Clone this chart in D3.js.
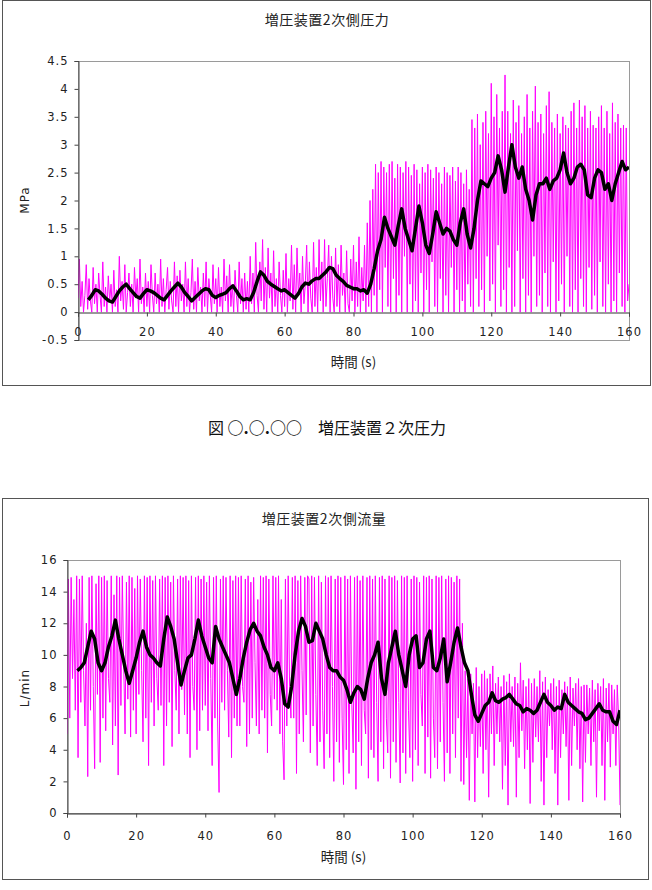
<!DOCTYPE html>
<html><head><meta charset="utf-8">
<script src="https://cdn.jsdelivr.net/npm/d3@7"></script>
<style>
body{margin:0;background:#fff;}
svg{display:block;}
</style></head>
<body>
<svg id="c" width="652" height="890"></svg>
<script>
// ---------- data ----------
const sampleStep = 0.4;   // s, magenta raw signal sampling
const avgStart = 3;       // s, moving-average start
const avgStep = 1;        // s

const pressureTitle = "増圧装置2次側圧力";
const flowTitle = "増圧装置2次側流量";
const xLabel = "時間 (s)";
const pressureUnit = "MPa";
const flowUnit = "L/min";
const captionNum = "○.○.○○";
const captionText = "増圧装置２次圧力";

const xTicks = [0,20,40,60,80,100,120,140,160];
const pressureTicks = [-0.5,0,0.5,1,1.5,2,2.5,3,3.5,4,4.5];
const flowTicks = [0,2,4,6,8,10,12,14,16];

const pressureRaw = [
0.25,0.95,0.1,0.55,0.0,0.3,0.85,0.05,0.6,0.2,0.0,0.8,0.15,0.5,0.0,0.7,0.3,0.0,0.9,0.1,0.45,0.0,0.65,0.2,0.5,
0.0,0.75,0.1,0.4,0.0,1.0,0.2,0.55,0.05,0.85,0.0,0.35,0.7,0.1,0.5,0.0,0.8,0.25,0.6,0.0,0.95,0.15,0.45,0.0,0.7,
0.1,0.55,0.0,0.85,0.3,0.0,0.7,0.15,0.5,0.0,0.95,0.1,0.6,0.0,0.4,0.8,0.05,0.55,0.2,0.0,0.9,0.1,0.65,0.0,0.75,
0.2,0.5,0.0,0.9,0.1,0.6,0.0,0.35,0.95,0.05,0.55,0.0,0.8,0.2,0.45,0.0,0.7,0.1,0.9,0.0,0.6,0.3,0.0,0.85,0.15,
0.6,0.0,0.8,0.1,0.45,0.0,0.95,0.2,0.65,0.0,0.85,0.1,0.5,0.0,0.75,0.3,0.0,0.9,0.15,0.6,0.0,0.7,0.05,0.55,0.0,
1.0,0.15,0.7,0.0,1.25,0.3,0.0,0.9,0.2,1.3,0.05,0.8,0.0,1.15,0.25,0.7,0.0,1.1,0.1,0.6,0.0,0.9,0.3,0.0,0.75,
0.1,1.05,0.0,0.6,0.2,1.2,0.05,0.85,0.0,1.15,0.3,0.7,0.0,1.0,0.15,0.5,1.2,0.0,0.9,0.25,0.0,1.25,0.1,0.8,0.0,
1.3,0.2,0.9,0.0,1.3,0.1,0.6,1.2,0.0,1.0,0.25,0.0,1.15,0.1,0.85,0.0,1.2,0.3,0.7,0.0,1.1,0.15,0.0,0.95,0.2,
1.2,0.0,0.9,0.1,1.35,0.0,0.8,0.2,1.2,0.0,1.6,0.1,2.0,0.0,2.2,0.3,2.65,0.0,2.5,0.4,2.7,0.0,2.6,0.8,2.5,
0.1,2.65,0.0,2.7,0.6,2.4,0.0,2.65,0.3,2.6,0.0,2.5,1.0,2.7,0.0,2.6,0.5,2.45,0.0,2.65,0.2,2.55,0.0,2.3,0.7,
2.6,0.0,2.5,0.4,2.65,0.0,2.55,0.9,2.4,0.1,2.6,0.0,2.5,0.6,2.3,0.0,2.6,0.3,2.5,0.0,2.45,0.8,2.6,0.0,2.35,
0.4,2.6,0.0,2.5,0.2,2.3,0.0,2.55,0.5,2.2,0.1,3.45,0.0,3.3,0.6,3.55,0.1,3.0,0.4,3.4,0.0,3.6,1.0,3.2,0.2,
4.1,0.5,3.5,0.0,3.9,1.2,3.3,0.1,3.6,0.4,4.25,0.0,3.6,0.8,3.2,0.0,3.8,0.1,3.4,1.1,3.7,0.0,3.2,0.6,3.5,
0.0,3.9,0.3,3.3,0.0,3.6,1.0,4.05,0.1,3.4,0.3,3.55,0.0,3.2,0.7,3.7,0.1,3.95,0.0,3.4,0.9,3.3,0.0,3.55,0.2,
3.2,0.5,3.5,0.0,3.35,1.0,3.3,0.1,3.6,0.0,3.75,0.4,3.3,0.0,3.8,0.6,3.5,0.1,3.7,0.0,3.3,0.8,3.6,0.05,3.35,
0.3,3.3,0.0,3.5,0.9,3.7,0.1,3.3,0.0,3.6,0.5,3.2,0.0,3.75,0.2,3.4,0.0,3.55,0.7,3.3,0.1,3.35,0.0,3.3,0.2,
0.5];

const pressureAvg = [
0.22,0.3,0.4,0.38,0.32,0.25,0.2,0.18,0.28,0.38,0.45,0.5,0.42,0.35,0.28,0.25,0.33,0.4,
0.38,0.35,0.3,0.25,0.22,0.3,0.38,0.45,0.52,0.45,0.35,0.28,0.2,0.26,0.32,0.38,0.42,0.4,
0.3,0.26,0.3,0.32,0.35,0.42,0.47,0.38,0.28,0.22,0.24,0.22,0.35,0.55,0.72,0.66,0.55,0.5,
0.46,0.42,0.38,0.4,0.35,0.3,0.25,0.33,0.45,0.52,0.5,0.56,0.6,0.6,0.66,0.72,0.8,0.78,
0.66,0.6,0.55,0.48,0.45,0.42,0.42,0.38,0.4,0.34,0.5,0.78,1.1,1.3,1.7,1.5,1.35,1.2,
1.55,1.85,1.5,1.3,1.1,1.5,1.9,1.6,1.2,1.05,1.4,1.8,1.6,1.4,1.5,1.45,1.3,1.2,1.6,1.85,
1.4,1.15,1.5,2.0,2.35,2.3,2.25,2.4,2.5,2.8,2.55,2.15,2.6,3.0,2.6,2.4,2.6,2.2,2.0,1.65,
2.1,2.3,2.3,2.4,2.2,2.35,2.4,2.55,2.85,2.5,2.3,2.4,2.6,2.65,2.55,2.1,2.05,2.4,2.55,2.5,
2.2,2.3,2.0,2.3,2.5,2.7,2.55,2.6];

const flowRaw = [
5.0,14.8,6.0,14.9,8.5,13.5,6.5,15.0,3.5,14.8,7.0,15.0,9.0,5.5,12.0,2.3,14.9,6.5,15.0,8.0,2.8,14.5,7.5,15.0,3.2,
14.9,6.0,15.0,5.2,14.7,8.5,7.0,15.0,4.3,13.8,5.5,15.0,2.4,14.9,6.8,15.0,9.5,5.0,14.6,7.2,15.0,4.8,14.9,6.5,14.2,
5.0,15.0,7.5,14.8,9.0,4.5,15.0,6.0,14.9,3.0,15.0,7.0,14.7,5.5,15.0,8.5,6.5,14.8,6.8,15.0,3.0,14.9,5.5,15.0,7.0,
14.6,4.2,15.0,9.0,6.5,14.8,5.0,15.0,7.8,14.9,6.2,15.0,5.0,14.7,3.5,15.0,8.0,6.5,14.9,4.0,15.0,5.2,14.8,6.5,15.0,
6.8,14.6,5.2,15.0,8.5,3.0,14.9,6.0,15.0,5.5,1.3,14.8,7.0,15.0,6.5,14.9,9.0,4.8,15.0,3.5,14.7,6.0,15.0,5.5,14.9,
5.5,15.0,8.0,7.0,14.8,4.2,15.0,5.0,14.6,6.0,14.9,9.5,5.5,13.5,5.0,15.0,6.5,14.9,6.0,15.0,3.8,14.8,7.5,5.5,15.0,
7.2,14.9,6.5,15.0,5.0,13.5,4.5,2.1,14.8,5.5,15.0,8.0,6.0,14.9,6.0,15.0,2.5,14.7,5.0,15.0,9.0,4.5,14.9,6.2,15.0,
14.8,3.8,15.0,5.5,14.9,7.5,3.0,15.0,4.5,14.6,6.5,2.8,15.0,5.0,14.9,3.5,15.0,8.0,2.0,14.8,4.5,15.0,3.2,14.9,6.0,
1.8,15.0,4.0,14.8,2.5,15.0,7.0,3.8,14.9,1.5,15.0,4.5,14.7,3.0,15.0,6.5,5.0,14.9,2.2,15.0,4.0,14.8,3.5,15.0,7.0,
2.0,14.9,4.5,15.0,2.8,14.8,6.0,3.8,15.0,2.2,14.9,4.5,15.0,3.2,14.7,7.0,1.9,15.0,3.8,14.9,2.5,15.0,6.5,3.5,14.8,
2.0,15.0,4.0,14.9,3.0,14.6,7.5,5.5,15.0,2.5,14.9,4.8,15.0,2.2,14.8,6.0,3.5,15.0,2.8,14.9,4.5,15.0,7.0,2.0,14.8,
3.8,15.0,2.5,14.9,5.0,14.6,3.5,15.0,6.0,14.8,2.0,12.0,1.8,9.0,3.5,8.5,0.8,8.8,5.0,8.2,0.7,9.2,3.5,8.0,4.2,
8.8,2.5,9.0,4.0,8.5,1.0,8.8,5.0,9.3,3.0,8.2,5.0,8.6,4.5,8.0,1.5,8.7,3.0,8.3,0.5,8.8,4.5,8.0,4.2,8.6,
1.0,8.2,3.5,9.5,5.2,8.4,2.8,8.0,4.0,8.5,0.6,8.2,3.2,8.5,4.8,8.0,4.5,9.0,2.0,8.3,0.5,8.6,3.5,7.8,5.5,
8.2,4.0,8.5,2.5,8.0,0.5,8.4,3.5,7.8,5.0,8.3,4.2,8.0,0.8,8.6,3.0,7.9,5.5,8.2,4.0,8.5,2.8,8.0,0.7,8.1,
3.2,8.1,5.0,7.9,3.0,8.4,4.5,7.8,1.0,8.2,5.2,8.0,3.0,8.5,0.8,7.9,4.5,8.2,2.9,8.1,5.0,7.8,3.0,8.1,6.0,
0.5];

const flowAvg = [
9.0,9.2,9.5,10.5,11.5,11.0,9.5,9.0,9.5,10.5,11.2,12.2,11.0,10.0,9.0,8.2,9.0,9.8,10.8,
11.5,10.5,10.0,9.8,9.5,9.3,11.0,12.4,11.8,11.0,9.5,8.1,9.0,9.8,10.0,11.0,12.2,11.2,10.5,
9.8,9.5,11.8,11.0,10.5,10.0,9.5,8.5,7.5,8.5,9.8,10.8,11.6,12.0,11.5,11.2,10.5,10.0,9.2,
9.0,9.5,8.5,6.9,6.7,8.0,10.0,11.5,12.3,11.8,10.8,10.9,12.0,11.5,11.0,10.0,9.2,9.0,9.0,
8.6,8.4,7.8,7.0,7.6,8.0,7.8,7.2,8.5,9.5,10.0,10.8,8.5,7.5,9.5,10.5,11.5,10.0,9.0,8.0,
10.0,11.0,11.2,9.2,9.5,11.0,11.5,9.2,9.0,9.8,11.0,8.3,9.5,10.8,11.7,10.5,9.5,9.0,7.5,
6.2,5.8,6.3,6.8,7.0,7.6,7.1,7.0,7.2,7.3,7.5,7.2,6.9,6.8,6.4,6.6,6.5,6.3,6.5,7.0,7.5,
7.0,6.8,6.5,6.7,6.6,7.5,7.0,6.8,6.6,6.4,6.3,5.9,6.0,6.3,6.6,6.9,6.5,6.4,6.4,5.8,5.6,6.5];

// ---------- drawing ----------
const svg = d3.select("#c");
const MAG = "#ff00ff";
const jp = "'Noto Sans CJK JP','Noto Sans',sans-serif";
const num = "'DejaVu Sans',sans-serif";

function chart(cfg){
  const g = svg.append("g");
  g.append("rect").attr("x",cfg.frame[0]+0.5).attr("y",cfg.frame[1]+0.5)
    .attr("width",cfg.frame[2]-cfg.frame[0]).attr("height",cfg.frame[3]-cfg.frame[1])
    .attr("fill","#fff").attr("stroke","#555").attr("stroke-width",1);
  const x = d3.scaleLinear().domain([0,160]).range([cfg.left,cfg.right]);
  const y = d3.scaleLinear().domain(cfg.ydom).range([cfg.bottom,cfg.top]);
  g.append("rect").attr("x",cfg.left+0.5).attr("y",cfg.top+0.5)
    .attr("width",cfg.right-cfg.left).attr("height",cfg.bottom-cfg.top)
    .attr("fill","none").attr("stroke","#9a9a9a");
  const clipId = cfg.id+"clip";
  g.append("clipPath").attr("id",clipId).append("rect")
    .attr("x",cfg.left).attr("y",cfg.top).attr("width",cfg.right-cfg.left).attr("height",cfg.bottom-cfg.top);
  const pg = g.append("g").attr("clip-path",`url(#${clipId})`);
  const rawLine = d3.line().x((d,i)=>x(i*sampleStep)).y(d=>y(d));
  pg.append("path").datum(cfg.raw).attr("d",rawLine).attr("fill","none")
    .attr("stroke",MAG).attr("stroke-width",1);
  const avgLine = d3.line().x((d,i)=>x(avgStart+i*avgStep)).y(d=>y(d));
  pg.append("path").datum(cfg.avg).attr("d",avgLine).attr("fill","none")
    .attr("stroke","#000").attr("stroke-width",3.5).attr("stroke-linejoin","round");
  const ya = g.append("g").attr("transform",`translate(${cfg.left+0.5},0)`)
    .call(d3.axisLeft(y).tickValues(cfg.yticks).tickSize(4).tickPadding(6).tickFormat(d=>String(d)));
  ya.select(".domain").attr("stroke","#444");
  ya.selectAll(".tick line").attr("stroke","#444");
  ya.selectAll(".tick text").attr("font-size","11.5px").attr("font-family",num)
    .attr("letter-spacing","1px").attr("fill","#222");
  const xa = g.append("g").attr("transform",`translate(0,${Math.round(y(0))+0.5})`)
    .call(d3.axisBottom(x).tickValues(xTicks).tickSize(4).tickPadding(cfg.xpad).tickFormat(d=>String(d)));
  xa.select(".domain").attr("stroke","#333");
  xa.selectAll(".tick line").attr("stroke","#444");
  xa.selectAll(".tick text").attr("font-size","11.5px").attr("font-family",num)
    .attr("letter-spacing","1px").attr("fill","#222");
  g.append("text").attr("x",cfg.titleX).attr("y",cfg.titleY).attr("text-anchor","middle")
    .attr("font-family",jp).attr("font-size","14px").attr("letter-spacing","0.5px")
    .attr("fill","#222").text(cfg.title);
  g.append("text").attr("x",(cfg.left+cfg.right)/2).attr("y",cfg.xlabY).attr("text-anchor","middle")
    .attr("font-family",jp).attr("font-size","13.5px").attr("fill","#222").text(xLabel);
  g.append("text").attr("transform",`translate(${cfg.ylabX},${cfg.ylabY}) rotate(-90)`)
    .attr("text-anchor","middle").attr("font-family",num).attr("font-size","12px")
    .attr("letter-spacing","1px").attr("fill","#222").text(cfg.unit);
}

chart({id:"p",frame:[2,0,650,385],left:78,right:629,top:61,bottom:340,ydom:[-0.5,4.5],
  raw:pressureRaw,avg:pressureAvg,yticks:pressureTicks,title:pressureTitle,unit:pressureUnit,
  titleX:327,titleY:25,xlabY:367,ylabX:29,ylabY:200,xpad:11});
chart({id:"f",frame:[2,498,648,879],left:67,right:620,top:560,bottom:813,ydom:[0,16],
  raw:flowRaw,avg:flowAvg,yticks:flowTicks,title:flowTitle,unit:flowUnit,
  titleX:324,titleY:524,xlabY:862,ylabX:29,ylabY:688,xpad:14});

const cap = svg.append("text").attr("x",327).attr("y",434).attr("text-anchor","middle")
  .attr("font-family",jp).attr("font-size","16px").attr("fill","#111");
cap.append("tspan").text("図 ");
cap.append("tspan").attr("font-weight","bold").text(captionNum);
cap.append("tspan").text("　"+captionText);
</script>
</body></html>
